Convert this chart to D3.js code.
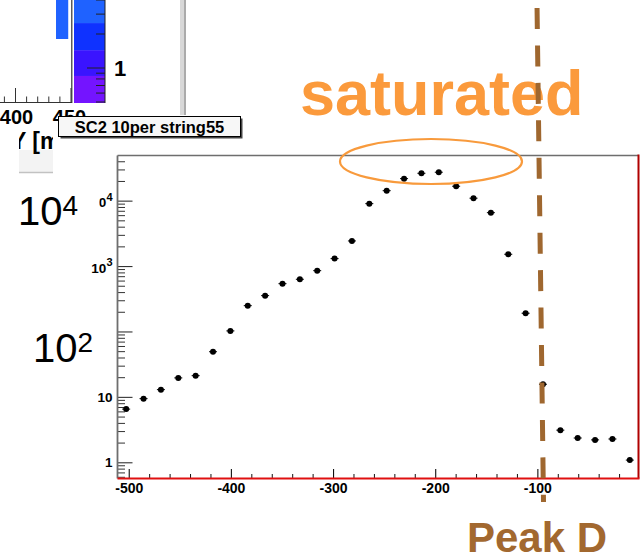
<!DOCTYPE html>
<html>
<head>
<meta charset="utf-8">
<script src="https://cdn.jsdelivr.net/npm/d3@7"></script>
<style>
  html, body { margin: 0; padding: 0; background: #fff; }
  svg { display: block; }
  text { font-family: "Liberation Sans", Arial, Helvetica, sans-serif; }
</style>
</head>
<body>
<svg id="chart" width="644" height="557"></svg>
<script>
// ---- Histogram: 30 bins of width 17 between -511 and -1 ----
const binCenters = [-502.5, -485.5, -468.5, -451.5, -434.5, -417.5, -400.5, -383.5,
  -366.5, -349.5, -332.5, -315.5, -298.5, -281.5, -264.5, -247.5, -230.5, -213.5,
  -196.5, -179.5, -162.5, -145.5, -128.5, -111.5, -94.5, -77.5, -60.5, -43.5, -26.5, -9.5];
const counts = [6.5, 9.4, 12.9, 19.5, 21.1, 49, 102, 248, 353, 538, 628, 850, 1300,
  2420, 9000, 14200, 21700, 26200, 27200, 16600, 10900, 6550, 1515, 190, 15.6,
  3.1, 2.35, 2.2, 2.27, 1.08];

const xDomain = [-511, -1];
const yDomain = [0.565, 49000];
const xTickValues = [-500, -400, -300, -200, -100];
const xTickLabels = ["-500", "-400", "-300", "-200", "-100"];
const yMajorTicks = [1, 10, 100, 1000, 10000];
// the 10^2 decade is labelled by the large annotation instead
const yMajorLabels = [["1", ""], ["10", ""], ["", ""], ["10", "3"], ["10", "4"]];

// Peak D marker position (x at top and bottom of the drawn line)
const peakDTop = -100.3, peakDBottom = -94;

// ---- Partial neighbouring plot (top-left) ----
const miniTickValues = [390, 400, 410, 420, 430, 440, 450];
const miniTickLabels = ["400", "450"];
const colorbarEdges = [0.49, 0.85, 1.44, 2.5, 4.0];
const colorbarColors = ["#7414ff", "#3a14ff", "#0f32ff", "#1f62ff"];
const colorbarMinor = [0.5, 0.6, 0.7, 0.8, 0.9, 2, 3, 4];
const miniBarValue = [436.5, 447.5];   // x-extent of the visible blue bin

const svg = d3.select("#chart");

// Frame of the main pad
const plot = { left: 117.5, right: 638.5, top: 155.5, bottom: 478.5 };

const x = d3.scaleLinear().domain(xDomain).range([plot.left, plot.right]);
const y = d3.scaleLog().domain(yDomain).range([plot.bottom, plot.top]);

// ===== Top-left partial plot =====
const mini = svg.append("g");
const mx = d3.scaleLinear().domain([400, 450]).range([15.5, 71]);
const cb = d3.scaleLog().domain([colorbarEdges[0], colorbarEdges[4]]).range([103, 0]);

// visible blue bin
mini.append("rect")
  .attr("x", mx(miniBarValue[0])).attr("y", 0)
  .attr("width", mx(miniBarValue[1]) - mx(miniBarValue[0])).attr("height", 39)
  .attr("fill", "#1f62ff");

// frame
mini.append("line").attr("x1", 71.8).attr("x2", 71.8).attr("y1", 0).attr("y2", 103)
  .attr("stroke", "#333").attr("stroke-width", 1.2);
mini.append("line").attr("x1", 0).attr("x2", 72).attr("y1", 102.5).attr("y2", 102.5)
  .attr("stroke", "#333").attr("stroke-width", 1.2);

// mini x ticks
mini.selectAll("line.mt").data(miniTickValues).join("line")
  .attr("class", "mt")
  .attr("x1", d => mx(d)).attr("x2", d => mx(d))
  .attr("y1", 102.5).attr("y2", d => (d % 50 === 0 ? 88 : 96.5))
  .attr("stroke", "#333").attr("stroke-width", 1);
mini.selectAll("text.ml").data([400, 450]).join("text")
  .attr("class", "ml")
  .attr("x", (d, i) => mx(d) + (i === 0 ? 1 : -1.5)).attr("y", 123.5)
  .attr("text-anchor", "middle")
  .attr("font-size", 20).attr("font-weight", "bold").attr("fill", "#000")
  .text((d, i) => miniTickLabels[i]);

// colour bar
const cbBands = d3.range(colorbarColors.length).map(i => [colorbarEdges[i], colorbarEdges[i + 1], colorbarColors[i]]);
mini.selectAll("rect.cb").data(cbBands).join("rect")
  .attr("class", "cb")
  .attr("x", 74).attr("width", 31)
  .attr("y", d => cb(d[1])).attr("height", d => cb(d[0]) - cb(d[1]))
  .attr("fill", d => d[2]);
mini.append("line").attr("x1", 105).attr("x2", 105).attr("y1", 0).attr("y2", 103)
  .attr("stroke", "#222").attr("stroke-width", 1);
mini.selectAll("line.cbt").data(colorbarMinor).join("line")
  .attr("class", "cbt")
  .attr("x1", 96).attr("x2", 105)
  .attr("y1", d => cb(d)).attr("y2", d => cb(d))
  .attr("stroke", "#222").attr("stroke-width", 1);
mini.append("line").attr("x1", 87).attr("x2", 105).attr("y1", cb(1)).attr("y2", cb(1))
  .attr("stroke", "#222").attr("stroke-width", 1);
mini.append("text").attr("x", 114).attr("y", cb(1) + 8)
  .attr("font-size", 22).attr("font-weight", "bold").attr("fill", "#000").text("1");

// pad separator
mini.append("rect").attr("x", 180).attr("y", 0).attr("width", 4).attr("height", 115).attr("fill", "#d8d8d8");
mini.append("rect").attr("x", 184).attr("y", 0).attr("width", 2).attr("height", 115).attr("fill", "#ababab");

// clipped axis title of the neighbouring pad
const defs = svg.append("defs");
defs.append("clipPath").attr("id", "titleClip")
  .append("rect").attr("x", 19).attr("y", 124).attr("width", 34).attr("height", 50);
const tg = mini.append("g").attr("clip-path", "url(#titleClip)");
tg.append("rect").attr("x", 0).attr("y", 150).attr("width", 80).attr("height", 22).attr("fill", "#f3f3f3");
tg.append("line").attr("x1", 0).attr("x2", 80).attr("y1", 172.5).attr("y2", 172.5)
  .attr("stroke", "#c2c2c2").attr("stroke-width", 1.5);
tg.append("text").attr("x", 11).attr("y", 149)
  .attr("font-size", 23).attr("font-weight", "bold").attr("fill", "#000").text("Y [mm]");

// ===== Main pad =====
// y axis: major ticks with labels
const yAxisMajor = d3.axisLeft(y).tickValues(yMajorTicks)
  .tickSizeInner(-15).tickSizeOuter(0).tickPadding(5).tickFormat("");
const gyMaj = svg.append("g").attr("transform", `translate(${plot.left},0)`).call(yAxisMajor);
gyMaj.select(".domain").remove();
gyMaj.selectAll(".tick line").attr("stroke", "#333").attr("stroke-width", 1.1);
gyMaj.selectAll(".tick text").each(function (d, i) {
  const t = d3.select(this).text(null)
    .attr("font-size", 13.5).attr("font-weight", "bold").attr("fill", "#000")
    .attr("font-family", '"Liberation Sans", Arial, sans-serif')
    .attr("dy", null);
  const lab = yMajorLabels[i];
  if (lab[0] === "") {
    t.remove();
  } else if (lab[1] === "") {
    t.attr("y", 4.6).text(lab[0]);
  } else {
    t.attr("y", 6).append("tspan").text(lab[0]);
    t.append("tspan").attr("font-size", 11).attr("dy", -6.5).text(lab[1]);
  }
});

// y axis: minor ticks
const yMinor = [];
[0.1, 1, 10, 100, 1000, 10000].forEach(dec => {
  for (let m = 2; m <= 9; m++) {
    const v = m * dec;
    if (v >= yDomain[0] && v <= yDomain[1]) yMinor.push(v);
  }
});
const gyMin = svg.append("g").attr("transform", `translate(${plot.left},0)`)
  .call(d3.axisLeft(y).tickValues(yMinor).tickSizeInner(-7.5).tickSizeOuter(0).tickFormat(""));
gyMin.select(".domain").remove();
gyMin.selectAll(".tick line").attr("stroke", "#333").attr("stroke-width", 1);

// x axis: major ticks with labels
const gxMaj = svg.append("g").attr("transform", `translate(0,${plot.bottom})`)
  .call(d3.axisBottom(x).tickValues(xTickValues).tickSizeInner(-9.5).tickSizeOuter(0)
    .tickPadding(5).tickFormat((d, i) => xTickLabels[i]));
gxMaj.select(".domain").remove();
gxMaj.selectAll(".tick line").attr("stroke", "#111").attr("stroke-width", 1.1);
gxMaj.selectAll(".tick text")
  .attr("font-size", 14).attr("font-weight", "bold").attr("fill", "#000")
  .attr("font-family", '"Liberation Sans", Arial, sans-serif');

// x axis: minor ticks every 20
const xMinor = d3.range(-500, 0, 20).filter(v => !xTickValues.includes(v));
const gxMin = svg.append("g").attr("transform", `translate(0,${plot.bottom})`)
  .call(d3.axisBottom(x).tickValues(xMinor).tickSizeInner(-4.5).tickSizeOuter(0).tickFormat(""));
gxMin.select(".domain").remove();
gxMin.selectAll(".tick line").attr("stroke", "#111").attr("stroke-width", 1);

// frame: grey top/left, red histogram outline along bottom/right
svg.append("line").attr("x1", plot.left).attr("x2", plot.right).attr("y1", plot.top).attr("y2", plot.top)
  .attr("stroke", "#6e6e6e").attr("stroke-width", 1.6);
svg.append("line").attr("x1", plot.left).attr("x2", plot.left).attr("y1", plot.top).attr("y2", plot.bottom)
  .attr("stroke", "#6e6e6e").attr("stroke-width", 1.8);
svg.append("line").attr("x1", plot.right).attr("x2", plot.right).attr("y1", plot.top - 1).attr("y2", plot.bottom)
  .attr("stroke", "#b00000").attr("stroke-width", 2);
svg.append("line").attr("x1", plot.left).attr("x2", plot.right + 1).attr("y1", plot.bottom).attr("y2", plot.bottom)
  .attr("stroke", "#e01010").attr("stroke-width", 2);

// data points
const pts = binCenters.map((c, i) => ({ c, v: counts[i] }));
const pg = svg.append("g");
pg.selectAll("line.err").data(pts).join("line")
  .attr("class", "err")
  .attr("x1", d => x(d.c) - 4).attr("x2", d => x(d.c) + 4)
  .attr("y1", d => y(d.v)).attr("y2", d => y(d.v))
  .attr("stroke", "#000").attr("stroke-width", 1);
pg.selectAll("circle").data(pts).join("circle")
  .attr("cx", d => x(d.c)).attr("cy", d => y(d.v)).attr("r", 3)
  .attr("fill", "#000");

// ===== Slide annotations =====
// large axis values with white backing
function bigPower(base, exp, xPos, baseline, boxW) {
  svg.append("rect").attr("x", xPos - 4).attr("y", baseline - 38).attr("width", boxW).attr("height", 46)
    .attr("fill", "#fff");
  const t = svg.append("text").attr("x", xPos).attr("y", baseline)
    .attr("font-size", 40).attr("fill", "#000");
  t.append("tspan").text(base);
  t.append("tspan").attr("font-size", 28).attr("dy", -10).text(exp);
}
bigPower("10", "4", 18, 225, 85.3);
bigPower("10", "2", 33, 362, 83);

// saturated label + ellipse
svg.append("text").attr("x", 300).attr("y", 115)
  .attr("font-size", 63).attr("font-weight", "bold").attr("fill", "#fb9a3c")
  .text("saturated");
svg.append("ellipse").attr("cx", 431).attr("cy", 161.5).attr("rx", 91).attr("ry", 22.5)
  .attr("fill", "none").attr("stroke", "#f89a3c").attr("stroke-width", 2.2);

// Peak D dashed marker
svg.append("line")
  .attr("x1", x(peakDTop)).attr("y1", 8)
  .attr("x2", x(peakDBottom)).attr("y2", 502)
  .attr("stroke", "#9f672f").attr("stroke-width", 5)
  .attr("stroke-dasharray", "21,16.45");
svg.append("text").attr("x", 467).attr("y", 552)
  .attr("font-size", 42).attr("font-weight", "bold").attr("fill", "#a2682f")
  .text("Peak D");

// pave label of the neighbouring pad
svg.append("rect").attr("x", 60.5).attr("y", 118.5).attr("width", 182).attr("height", 20).attr("fill", "#444");
svg.append("rect").attr("x", 58.5).attr("y", 116.5).attr("width", 182).attr("height", 20)
  .attr("fill", "#f7f7f7").attr("stroke", "#000").attr("stroke-width", 1);
svg.append("text").attr("x", 149.5).attr("y", 132.5).attr("text-anchor", "middle")
  .attr("font-size", 16.5).attr("font-weight", "bold").attr("fill", "#000")
  .text("SC2 10per string55");
</script>
</body>
</html>
